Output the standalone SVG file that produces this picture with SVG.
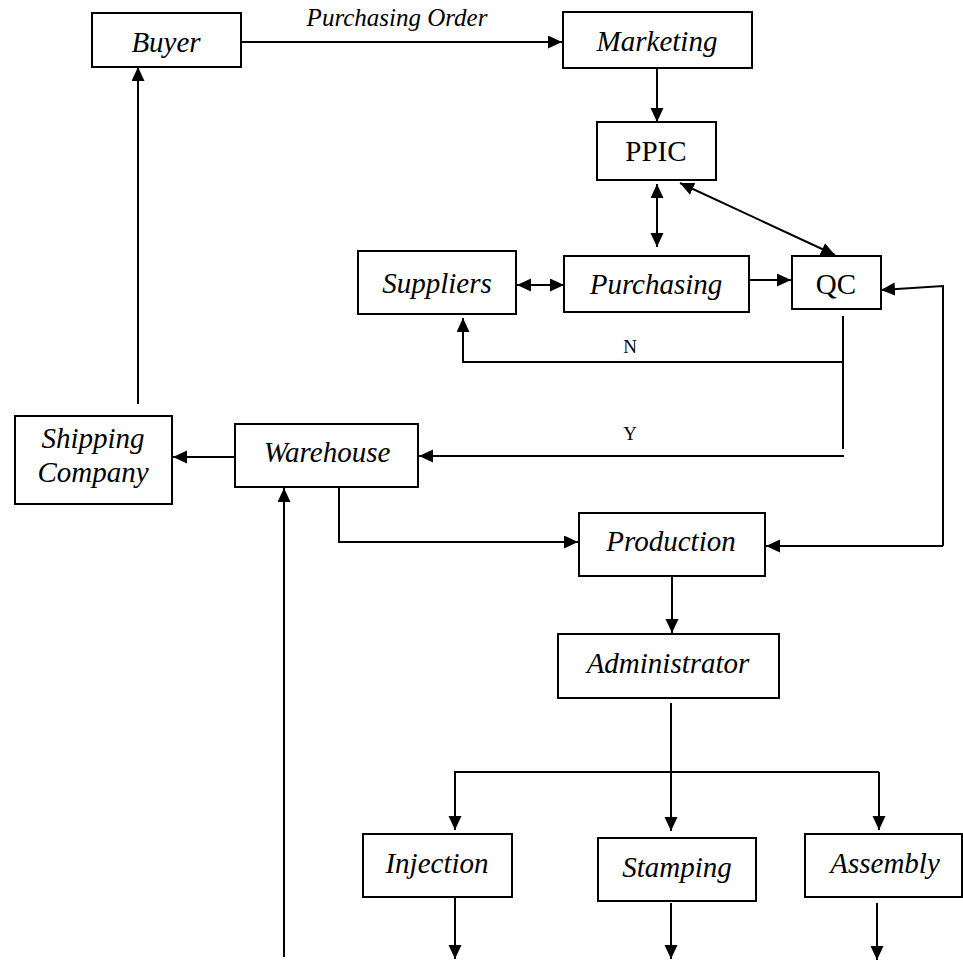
<svg xmlns="http://www.w3.org/2000/svg" width="963" height="961" viewBox="0 0 963 961">
  <defs>
    <marker id="arrow" markerUnits="userSpaceOnUse" markerWidth="15" markerHeight="14" refX="14" refY="6.5" orient="auto-start-reverse">
      <path d="M0,0 L14,6.5 L0,13 z" fill="#000"/>
    </marker>
  </defs>
  <style>
    rect.box { fill: #fff; stroke: #000; stroke-width: 2; }
    .lbl { font-family: "Liberation Serif", "Times New Roman", serif; font-size: 29px; text-anchor: middle; fill: #000; }
    .it { font-style: italic; }
    .small { font-family: "Liberation Serif", "Times New Roman", serif; font-size: 19px; text-anchor: middle; fill: #000; }
    .edge { fill: none; stroke: #000; stroke-width: 2; }
    .to { marker-end: url(#arrow); }
    .both { marker-start: url(#arrow); marker-end: url(#arrow); }
  </style>

  <!-- connectors -->
  <g id="connectors">
    <line class="edge to" x1="241" y1="42" x2="562" y2="42"/>
    <text class="small it" x="397" y="26" style="font-size:25px">Purchasing Order</text>
    <line class="edge to" x1="657" y1="68" x2="657" y2="122"/>
    <line class="edge both" x1="657" y1="184" x2="657" y2="247"/>
    <line class="edge both" x1="680" y1="183" x2="835" y2="255"/>
    <line class="edge both" x1="517" y1="285" x2="564" y2="285"/>
    <line class="edge to" x1="745" y1="280" x2="791" y2="280"/>
    <!-- rework loop: Production back to QC and QC back to Production -->
    <polyline class="edge to" points="943,546 943,286 881,290"/>
    <line class="edge to" x1="943" y1="546" x2="766" y2="546"/>
    <!-- QC decision: N back to suppliers, Y on to the warehouse -->
    <line class="edge" x1="843" y1="316" x2="843" y2="449"/>
    <polyline class="edge to" points="843,362 463,362 463,318"/>
    <text class="small" x="630" y="353">N</text>
    <line class="edge to" x1="844" y1="456" x2="419" y2="456"/>
    <text class="small" x="630" y="440">Y</text>
    <line class="edge to" x1="235" y1="457" x2="173" y2="457"/>
    <line class="edge to" x1="138" y1="404" x2="138" y2="67"/>
    <polyline class="edge to" points="339,488 339,542 578,542"/>
    <line class="edge to" x1="284" y1="957" x2="284" y2="488"/>
    <line class="edge to" x1="672" y1="577" x2="672" y2="633"/>
    <!-- administrator branches -->
    <line class="edge to" x1="671" y1="703" x2="671" y2="831"/>
    <polyline class="edge to" points="879,772 455,772 455,830"/>
    <line class="edge to" x1="879" y1="772" x2="879" y2="830"/>
    <line class="edge to" x1="455" y1="898" x2="455" y2="959"/>
    <line class="edge to" x1="671" y1="903" x2="671" y2="959"/>
    <line class="edge to" x1="877" y1="903" x2="877" y2="960"/>
  </g>

  <g id="buyer">
    <rect class="box" x="92" y="13" width="149" height="54"/>
    <text class="lbl it" x="166" y="52">Buyer</text>
  </g>
  <g id="marketing">
    <rect class="box" x="563" y="12" width="189" height="56"/>
    <text class="lbl it" x="657" y="51">Marketing</text>
  </g>
  <g id="ppic">
    <rect class="box" x="597" y="122" width="119" height="58"/>
    <text class="lbl" x="656" y="161">PPIC</text>
  </g>
  <g id="suppliers">
    <rect class="box" x="358" y="251" width="158" height="63"/>
    <text class="lbl it" x="437" y="293">Suppliers</text>
  </g>
  <g id="purchasing">
    <rect class="box" x="564" y="256" width="185" height="56"/>
    <text class="lbl it" x="656" y="294">Purchasing</text>
  </g>
  <g id="qc">
    <rect class="box" x="792" y="256" width="89" height="53"/>
    <text class="lbl" x="836" y="294">QC</text>
  </g>
  <g id="shipping-company">
    <rect class="box" x="15" y="416" width="157" height="88"/>
    <text class="lbl it" x="93" y="448">Shipping</text>
    <text class="lbl it" x="93" y="482">Company</text>
  </g>
  <g id="warehouse">
    <rect class="box" x="235" y="424" width="183" height="63"/>
    <text class="lbl it" x="327" y="462">Warehouse</text>
  </g>
  <g id="production">
    <rect class="box" x="579" y="513" width="186" height="63"/>
    <text class="lbl it" x="671" y="551">Production</text>
  </g>
  <g id="administrator">
    <rect class="box" x="558" y="634" width="221" height="64"/>
    <text class="lbl it" x="668" y="673">Administrator</text>
  </g>
  <g id="injection">
    <rect class="box" x="363" y="834" width="149" height="63"/>
    <text class="lbl it" x="437" y="873">Injection</text>
  </g>
  <g id="stamping">
    <rect class="box" x="598" y="838" width="158" height="63"/>
    <text class="lbl it" x="677" y="877">Stamping</text>
  </g>
  <g id="assembly">
    <rect class="box" x="805" y="834" width="157" height="63"/>
    <text class="lbl it" x="885" y="873">Assembly</text>
  </g>
</svg>
